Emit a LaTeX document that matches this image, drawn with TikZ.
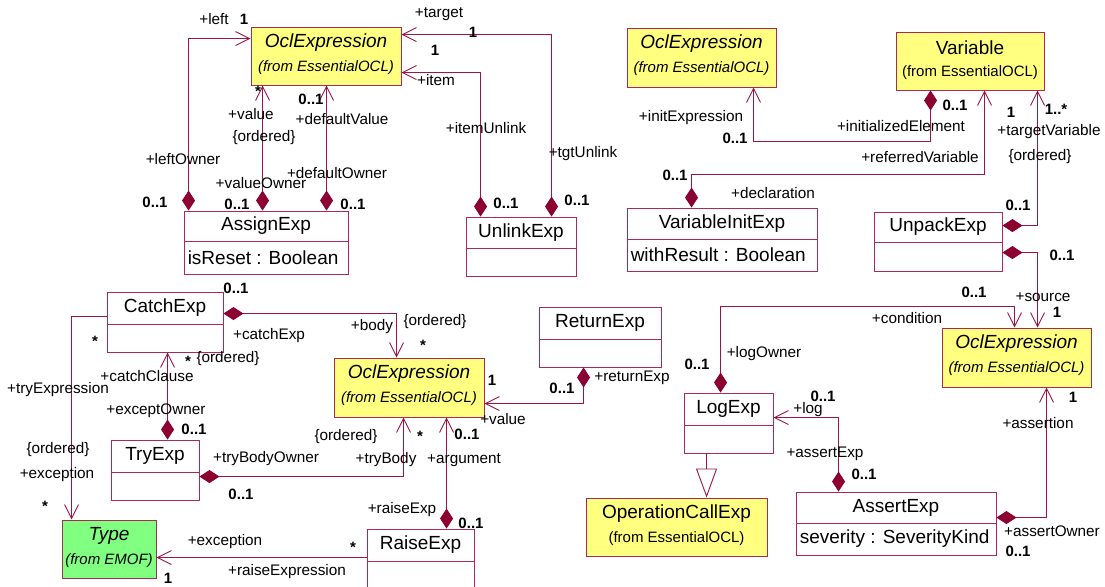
\documentclass[tikz,border=0pt]{standalone}
\usepackage{fontspec}
\setmainfont{Liberation Sans}
\usetikzlibrary{arrows.meta,calc,fit}
\definecolor{lncol}{RGB}{158,20,70}
\definecolor{bxcol}{RGB}{172,40,88}
\definecolor{dicol}{RGB}{140,0,50}
\definecolor{yel}{RGB}{255,255,128}
\definecolor{grn}{RGB}{128,255,128}
\tikzset{
  clsbox/.style={draw=bxcol, line width=0.9pt, inner sep=0pt, fill=white},
  bxline/.style={draw=bxcol, line width=0.9pt},
  lbl/.style={inner sep=0pt, font=\fontsize{15.3}{17}\selectfont},
  mul/.style={inner sep=0pt, font=\bfseries\fontsize{15}{17}\selectfont},
  cname/.style={inner sep=0pt, font=\fontsize{19}{21}\selectfont},
  titleit/.style={inner sep=0pt, font=\itshape\fontsize{19}{21}\selectfont},
  fromit/.style={inner sep=0pt, font=\itshape\fontsize{15}{17}\selectfont},
  titleup/.style={inner sep=0pt, font=\fontsize{19}{21}\selectfont},
  fromup/.style={inner sep=0pt, font=\fontsize{15}{17}\selectfont},
  comp/.style={draw=lncol, line width=0.9pt, {Diamond[length=20pt,width=13pt,color=dicol]}-{Straight Barb[length=14pt,width=14pt]}},
  assoc/.style={draw=lncol, line width=0.9pt, -{Straight Barb[length=14pt,width=14pt]}},
  gen/.style={draw=lncol, line width=0.9pt, -{Triangle[open,length=29pt,width=21pt,fill=white]}},
}
\newcommand\umlcls[8]{%
  \node[clsbox, fit={(#2,#3) (#4,#5)}] (#1) {};
  \draw[bxline] ($(#1.north west)+(0,#6)$) -- ($(#1.north east)+(0,#6)$);
  \node[cname] (#1-t) at ($(#1.north)+(0,#6/2)$) {#7};
  \node[cname, anchor=west] (#1-a) at ($(#1.north west)+(4,{(#6+#5-#3)/2})$) {#8};
}
\newcommand\extcls[9]{%
  \node[clsbox, fill=#6, fit={(#2,#3) (#4,#5)}] (#1) {};
  \node[title#7] (#1-t) at ($(#1.north)+(0,16)$) {#8};
  \node[from#7] (#1-f) at ($(#1.north)+(0,41)$) {#9};
}
\begin{document}
\begin{tikzpicture}[x=1pt,y=-1pt]
\path[use as bounding box, fill=white] (0,0) rectangle (1105,586);
\clip (0,0) rectangle (1105,586);

% classes
\extcls{oeA}{251}{27}{401}{85}{yel}{it}{OclExpression}{(from EssentialOCL)}
\extcls{oeB}{627}{28}{776}{87}{yel}{it}{OclExpression}{(from EssentialOCL)}
\extcls{var}{896}{32}{1044}{90}{yel}{up}{Variable}{(from EssentialOCL)}
\extcls{oeC}{334}{358}{484}{417}{yel}{it}{OclExpression}{(from EssentialOCL)}
\extcls{oeD}{942}{328}{1091}{387}{yel}{it}{OclExpression}{(from EssentialOCL)}
\extcls{opcall}{586}{498}{767}{556}{yel}{up}{OperationCallExp}{(from EssentialOCL)}
\extcls{type}{62}{520}{156}{578}{grn}{it}{Type}{(from EMOF)}

\umlcls{assign}{184}{211}{348}{274}{31}{AssignExp}{isReset : Boolean}
\umlcls{unlink}{466}{217}{576}{276}{32}{UnlinkExp}{}
\umlcls{varinit}{627}{208}{817}{271}{32}{VariableInitExp}{withResult : Boolean}
\umlcls{unpack}{874}{212}{1002}{271}{31}{UnpackExp}{}
\umlcls{catch}{107}{292}{223}{352}{33}{CatchExp}{}
\umlcls{ret}{539}{307}{661}{367}{33}{ReturnExp}{}
\umlcls{log}{684}{393}{773}{453}{33}{LogExp}{}
\umlcls{try}{111}{440}{199}{500}{33}{TryExp}{}
\umlcls{raise}{367}{529}{474}{600}{33}{RaiseExp}{}
\umlcls{assert}{796}{492}{996}{555}{32}{AssertExp}{severity : SeverityKind}

% connectors
\draw[comp] ($(assign.north west)+(5,0)$) |- ($(oeA.north west)+(0,12)$);
\draw[comp] ($(assign.north west)+(79,0)$) -- ($(oeA.south west)+(12,0)$);
\draw[comp] ($(assign.north west)+(143,0)$) -- ($(oeA.south west)+(76,0)$);
\draw[comp] ($(unlink.north west)+(15,0)$) |- ($(oeA.north east)+(0,46)$);
\draw[comp] ($(unlink.north west)+(86,0)$) |- ($(oeA.north east)+(0,8)$);
\draw[comp] ($(varinit.north west)+(65,0)$) -- ++(0,-33) -| ($(var.south west)+(89,0)$);
\draw[comp] ($(var.south west)+(35,0)$) -- ++(0,51) -| ($(oeB.south west)+(127,0)$);
\draw[comp] ($(unpack.north east)+(0,14)$) -| ($(var.south west)+(142,0)$);
\draw[comp] ($(unpack.north east)+(0,41)$) -| ($(oeD.north west)+(96,0)$);
\draw[comp] ($(log.north west)+(37,0)$) -- ++(0,-86) -| ($(oeD.north west)+(73,0)$);
\draw[comp] ($(assert.north west)+(43,0)$) |- ($(log.north east)+(0,25)$);
\draw[comp] ($(assert.north east)+(0,26)$) -| ($(oeD.south west)+(105,0)$);
\draw[gen] ($(log.south west)+(23,0)$) -- ($(opcall.north west)+(121,0)$);
\draw[comp] ($(ret.south west)+(45,0)$) |- ($(oeC.north east)+(0,46)$);
\draw[comp] ($(catch.north east)+(0,22)$) -| ($(oeC.north west)+(63,0)$);
\draw[comp] ($(try.north west)+(57,0)$) -- ($(catch.south west)+(61,0)$);
\draw[comp] ($(try.north east)+(0,37)$) -| ($(oeC.south west)+(70,0)$);
\draw[comp] ($(raise.north west)+(80,0)$) -- ($(oeC.south west)+(113,0)$);
\draw[assoc] ($(catch.north west)+(0,25)$) -| ($(type.north west)+(10,0)$);
\draw[assoc] ($(raise.north west)+(0,29)$) -- ($(type.north east)+(0,38)$);

% labels
\node[lbl] (l1) at (214,19) {+left};
\node[mul] (m1) at (244,19) {1};
\node[mul] (m2) at (258,91) {*};
\node[lbl] (l2) at (251,114) {+value};
\node[lbl] (l3) at (264,138) {\{ordered\}};
\node[lbl] (l4) at (183,159) {+leftOwner};
\node[lbl] (l5) at (261,183) {+valueOwner};
\node[mul] (m3) at (311,99) {0..1};
\node[lbl] (l6) at (342,119) {+defaultValue};
\node[lbl] (l7) at (337,173) {+defaultOwner};
\node[mul] (m4) at (155,202) {0..1};
\node[mul] (m5) at (237,204) {0..1};
\node[mul] (m6) at (353,204) {0..1};
\node[lbl] (l8) at (439,14) {+target};
\node[mul] (m7) at (473,32) {1};
\node[mul] (m8) at (435,50) {1};
\node[lbl] (l9) at (436,80) {+item};
\node[lbl] (l10) at (486,128) {+itemUnlink};
\node[lbl] (l11) at (583,154) {+tgtUnlink};
\node[mul] (m9) at (506,203) {0..1};
\node[mul] (m10) at (577,200) {0..1};
\node[lbl] (l12) at (691,118) {+initExpression};
\node[mul] (m11) at (735,138) {0..1};
\node[mul] (m12) at (675,175) {0..1};
\node[lbl] (l13) at (901,126) {+initializedElement};
\node[mul] (m13) at (955,105) {0..1};
\node[lbl] (l14) at (920,157) {+referredVariable};
\node[lbl] (l15) at (773,193) {+declaration};
\node[mul] (m14) at (1011,112) {1};
\node[mul] (m15) at (1056,109) {1..*};
\node[lbl] (l16) at (1049,132) {+targetVariable};
\node[lbl] (l17) at (1040,157) {\{ordered\}};
\node[mul] (m16) at (1018,205) {0..1};
\node[mul] (m17) at (1062,255) {0..1};
\node[mul] (m18) at (974,292) {0..1};
\node[lbl] (l18) at (1043,297) {+source};
\node[mul] (m19) at (1057,312) {1};
\node[lbl] (l19) at (907,318) {+condition};
\node[lbl] (l20) at (764,354) {+logOwner};
\node[mul] (m20) at (697,364) {0..1};
\node[mul] (m21) at (823,396) {0..1};
\node[lbl] (l21) at (808,410) {+log};
\node[lbl] (l22) at (825,454) {+assertExp};
\node[mul] (m22) at (864,474) {0..1};
\node[mul] (m23) at (1073,397) {1};
\node[lbl] (l23) at (1038,423) {+assertion};
\node[lbl] (l24) at (1052,531) {+assertOwner};
\node[mul] (m24) at (1018,551) {0..1};
\node[mul] (m25) at (236,288) {0..1};
\node[lbl] (l25) at (269,336) {+catchExp};
\node[mul] (m26) at (95,341) {*};
\node[mul] (m27) at (188,361) {*};
\node[lbl] (l26) at (228,359) {\{ordered\}};
\node[lbl] (l27) at (147,376) {+catchClause};
\node[lbl] (l28) at (58,390) {+tryExpression};
\node[lbl] (l29) at (372,327) {+body};
\node[lbl] (l30) at (435,322) {\{ordered\}};
\node[mul] (m28) at (423,345) {*};
\node[mul] (m29) at (492,380) {1};
\node[mul] (m30) at (562,388) {0..1};
\node[lbl] (l31) at (632,378) {+returnExp};
\node[lbl] (l32) at (503,419) {+value};
\node[lbl] (l33) at (346,437) {\{ordered\}};
\node[mul] (m31) at (420,436) {*};
\node[mul] (m32) at (467,434) {0..1};
\node[lbl] (l34) at (386,460) {+tryBody};
\node[lbl] (l35) at (464,460) {+argument};
\node[lbl] (l36) at (156,411) {+exceptOwner};
\node[mul] (m33) at (194,429) {0..1};
\node[lbl] (l37) at (58,450) {\{ordered\}};
\node[lbl] (l38) at (57,475) {+exception};
\node[mul] (m34) at (45,506) {*};
\node[lbl] (l39) at (266,459) {+tryBodyOwner};
\node[mul] (m35) at (241,494) {0..1};
\node[lbl] (l40) at (225,542) {+exception};
\node[mul] (m36) at (353,547) {*};
\node[lbl] (l41) at (287,572) {+raiseExpression};
\node[mul] (m37) at (168,578) {1};
\node[lbl] (l42) at (402,510) {+raiseExp};
\node[mul] (m38) at (471,523) {0..1};
\end{tikzpicture}
\end{document}
